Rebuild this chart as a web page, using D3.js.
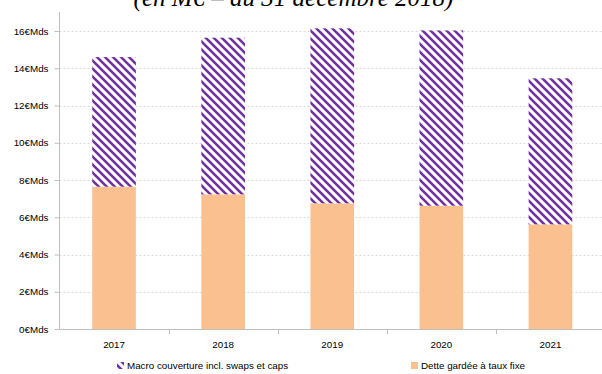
<!DOCTYPE html>
<html><head><meta charset="utf-8">
<script src="https://cdn.jsdelivr.net/npm/d3@7"></script>
<style>body{margin:0;background:#fff}svg{display:block}</style>
</head><body>
<script>
const categories = ["2017","2018","2019","2020","2021"];
const fixedDebt = [7.64, 7.23, 6.75, 6.62, 5.62];
const macroHedge = [6.96, 8.41, 9.39, 9.41, 7.84];
const yTicks = [0,2,4,6,8,10,12,14,16];
const tickLabel = v => v + "€Mds";
const seriesNames = ["Macro couverture incl. swaps et caps", "Dette gardée à taux fixe"];
const chartTitle = "(en M€ – au 31 décembre 2018)";

(function(){
const W = 602, H = 374;
const svg = d3.select("body").append("svg").attr("width", W).attr("height", H);
const defs = svg.append("defs");
const pat = defs.append("pattern").attr("id","hatch").attr("patternUnits","userSpaceOnUse")
  .attr("width",8).attr("height",8);
pat.append("rect").attr("width",8).attr("height",8).attr("fill","#fff");
pat.append("path").attr("d","M0,0L8,8M-4,4L4,12M4,-4L12,4")
  .attr("stroke","#7030A0").attr("stroke-width",2.6);

const pLeft = 59.5, pRight = 605, pTop = 12, pBottom = 329;
const x = d3.scaleBand().domain(categories).range([pLeft, pRight]).paddingInner(0.6).paddingOuter(0.3);
const y = d3.scaleLinear().domain([0,16]).range([pBottom, 31]);

// title
svg.append("text").attr("x",293.5).attr("y",6).attr("text-anchor","middle")
  .attr("font-family","Liberation Serif, Times New Roman, serif").attr("font-style","italic")
  .attr("font-size",25).attr("fill","#000").text(chartTitle);

// gridlines
svg.append("g").selectAll("line").data(yTicks.filter(d=>d>0)).join("line")
  .attr("x1",pLeft).attr("x2",W).attr("y1",d=>Math.round(y(d))+0.5).attr("y2",d=>Math.round(y(d))+0.5)
  .attr("stroke","#D9D9D9").attr("stroke-dasharray","2,2");

// bars
const g = svg.append("g");
g.selectAll("rect.fixed").data(categories).join("rect").attr("class","fixed")
  .attr("x",d=>x(d)).attr("width",x.bandwidth())
  .attr("y",(d,i)=>y(fixedDebt[i])).attr("height",(d,i)=>y(0)-y(fixedDebt[i]))
  .attr("fill","#FAC090");
g.selectAll("rect.macro").data(categories).join("rect").attr("class","macro")
  .attr("x",d=>x(d)).attr("width",x.bandwidth())
  .attr("y",(d,i)=>y(fixedDebt[i]+macroHedge[i])).attr("height",(d,i)=>y(fixedDebt[i])-y(fixedDebt[i]+macroHedge[i]))
  .attr("fill","url(#hatch)");

// y axis
const yAxis = d3.axisLeft(y).tickValues(yTicks).tickFormat(tickLabel).tickSize(5).tickPadding(6);
const ya = svg.append("g").attr("transform",`translate(${pLeft},0)`).call(yAxis);
ya.select(".domain").remove();
ya.append("line").attr("x1",0).attr("x2",0).attr("y1",pTop).attr("y2",pBottom).attr("stroke","#BFBFBF");
ya.selectAll(".tick line").attr("stroke","#BFBFBF");
ya.selectAll(".tick text").attr("font-family","Liberation Sans, Arial, sans-serif").attr("font-size",9.8).attr("fill","#000");

// x axis
const step = x.step();
const bounds = categories.map(c => x(c) + x.bandwidth()/2 + step/2).filter(b => b < W);
const xa = svg.append("g");
xa.append("line").attr("x1",pLeft).attr("x2",W).attr("y1",pBottom+0.5).attr("y2",pBottom+0.5).attr("stroke","#BFBFBF");
xa.selectAll("line.t").data(bounds).join("line").attr("class","t")
  .attr("x1",d=>Math.round(d)+0.5).attr("x2",d=>Math.round(d)+0.5).attr("y1",pBottom).attr("y2",pBottom+5).attr("stroke","#BFBFBF");
xa.selectAll("text").data(categories).join("text")
  .attr("x",d=>x(d)+x.bandwidth()/2).attr("y",348).attr("text-anchor","middle")
  .attr("font-family","Liberation Sans, Arial, sans-serif").attr("font-size",9.8).text(d=>d);

// legend
const lg = svg.append("g").attr("font-family","Liberation Sans, Arial, sans-serif").attr("font-size",9.8);
lg.append("rect").attr("x",117).attr("y",362).attr("width",7).attr("height",7).attr("fill","url(#hatch)");
lg.append("text").attr("x",127).attr("y",369).text(seriesNames[0]);
lg.append("rect").attr("x",411).attr("y",362).attr("width",7).attr("height",7).attr("fill","#FAC090");
lg.append("text").attr("x",421).attr("y",369).text(seriesNames[1]);
})();
</script>
</body></html>
